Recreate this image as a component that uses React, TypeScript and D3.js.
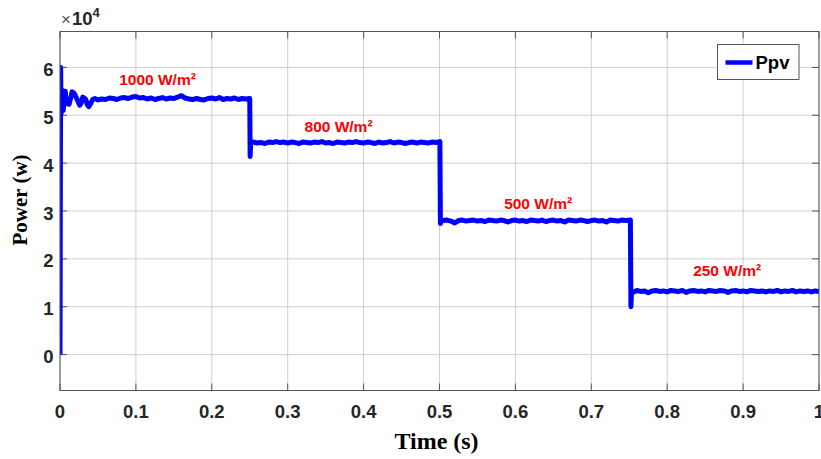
import React from "react";
import * as d3 from "d3";

// PV output power Ppv (W) under stepped irradiance, [time (s), power (W)]
const seg1000: [number, number][] = [
  [0, 0], [0.0008, 60000], [0.0014, 50200], [0.002, 54800], [0.0028, 52600], [0.0036, 55200],
  [0.0044, 51000], [0.005, 54600], [0.006, 53000], [0.007, 55000], [0.008, 52400], [0.010, 53000],
  [0.012, 52300], [0.014, 53600], [0.016, 54900], [0.018, 54700], [0.020, 54200], [0.022, 53500],
  [0.024, 52800], [0.026, 52100], [0.028, 52600], [0.030, 53800], [0.032, 53600], [0.034, 53300],
  [0.036, 52200], [0.038, 51800], [0.040, 52300], [0.043, 53300], [0.046, 53500], [0.050, 53200],
  [0.055, 53400], [0.060, 53300], [0.065, 53600], [0.070, 53500], [0.075, 53300], [0.080, 53600],
  [0.085, 53700], [0.090, 53500], [0.095, 53800], [0.100, 53900], [0.105, 53600], [0.110, 53700],
  [0.115, 53400], [0.120, 53600], [0.125, 53300], [0.130, 53500], [0.135, 53700], [0.140, 53400],
  [0.145, 53600], [0.150, 53500], [0.155, 53800], [0.160, 54100], [0.165, 53600], [0.170, 53400],
  [0.175, 53300], [0.180, 53500], [0.185, 53300], [0.190, 53200], [0.195, 53500], [0.200, 53600],
  [0.205, 53400], [0.210, 53700], [0.215, 53300], [0.220, 53500], [0.225, 53400], [0.230, 53600],
  [0.235, 53300], [0.240, 53500], [0.245, 53400], [0.2500, 53500],
];
const seg800: [number, number][] = [
  [0.2505, 41400], [0.2512, 44200], [0.255, 44400], [0.260, 44200], [0.265, 44300], [0.270, 44100],
  [0.275, 44400], [0.280, 44300], [0.285, 44500], [0.290, 44300], [0.295, 44400], [0.300, 44200],
  [0.305, 44400], [0.310, 44300], [0.315, 44100], [0.320, 44400], [0.325, 44300], [0.330, 44200],
  [0.335, 44400], [0.340, 44300], [0.345, 44500], [0.350, 44200], [0.355, 44300], [0.360, 44100],
  [0.365, 44400], [0.370, 44300], [0.375, 44200], [0.380, 44400], [0.385, 44300], [0.390, 44500],
  [0.395, 44300], [0.400, 44200], [0.405, 44400], [0.410, 44300], [0.415, 44100], [0.420, 44400],
  [0.425, 44200], [0.430, 44300], [0.435, 44500], [0.440, 44200], [0.445, 44400], [0.450, 44300],
  [0.455, 44100], [0.460, 44300], [0.465, 44400], [0.470, 44200], [0.475, 44400], [0.480, 44300],
  [0.485, 44200], [0.490, 44400], [0.495, 44300], [0.5005, 44500],
];
const seg500: [number, number][] = [
  [0.5012, 27400], [0.5020, 28100], [0.505, 28000], [0.510, 28100], [0.515, 27900], [0.520, 27500],
  [0.525, 28000], [0.530, 28100], [0.535, 27900], [0.540, 28000], [0.545, 28100], [0.550, 27900],
  [0.555, 28000], [0.560, 27800], [0.565, 28100], [0.570, 28000], [0.575, 27900], [0.580, 28100],
  [0.585, 28000], [0.590, 27700], [0.595, 28000], [0.600, 28100], [0.605, 27900], [0.610, 28000],
  [0.615, 27800], [0.620, 28100], [0.625, 28000], [0.630, 27900], [0.635, 28100], [0.640, 27800],
  [0.645, 28000], [0.650, 28100], [0.655, 27900], [0.660, 28000], [0.665, 27700], [0.670, 28100],
  [0.675, 28000], [0.680, 27900], [0.685, 28100], [0.690, 28000], [0.695, 27800], [0.700, 28000],
  [0.705, 28100], [0.710, 27900], [0.715, 28000], [0.720, 27700], [0.725, 28100], [0.730, 28000],
  [0.735, 27900], [0.740, 28100], [0.745, 28000], [0.7515, 28100],
];
const seg250: [number, number][] = [
  [0.7522, 10000], [0.7530, 13200], [0.756, 13100], [0.760, 13400], [0.765, 13200], [0.770, 13300],
  [0.775, 12900], [0.780, 13300], [0.785, 13400], [0.790, 13200], [0.795, 13300], [0.800, 13100],
  [0.805, 13400], [0.810, 13300], [0.815, 13200], [0.820, 13400], [0.825, 13000], [0.830, 13300],
  [0.835, 13400], [0.840, 13200], [0.845, 13300], [0.850, 13100], [0.855, 13400], [0.860, 13300],
  [0.865, 13200], [0.870, 13400], [0.875, 13300], [0.880, 13000], [0.885, 13300], [0.890, 13400],
  [0.895, 13200], [0.900, 13300], [0.905, 13100], [0.910, 13400], [0.915, 13300], [0.920, 13200],
  [0.925, 13300], [0.930, 13100], [0.935, 13300], [0.940, 13200], [0.945, 13400], [0.950, 13100],
  [0.955, 13300], [0.960, 13200], [0.965, 13400], [0.970, 13100], [0.975, 13300], [0.980, 13200],
  [0.985, 13300], [0.990, 13100], [0.995, 13300], [1.000, 13200],
];

const xTicks = [0, 0.1, 0.2, 0.3, 0.4, 0.5, 0.6, 0.7, 0.8, 0.9, 1];
const xTickLabels = ["0", "0.1", "0.2", "0.3", "0.4", "0.5", "0.6", "0.7", "0.8", "0.9", "1"];
const yTicks = [0, 10000, 20000, 30000, 40000, 50000, 60000];
const yTickLabels = ["0", "1", "2", "3", "4", "5", "6"];

// irradiance annotations: [label, time (s), power (W)] anchoring each label
const irradianceLabels: [string, number, number][] = [
  ["1000 W/m²", 0.1285, 56300],
  ["800 W/m²", 0.367, 46500],
  ["500 W/m²", 0.63, 30500],
  ["250 W/m²", 0.879, 16400],
];

const W = 821;
const H = 459;
const M = { left: 60, right: 2, top: 31.5, bottom: 68.5 };

export default function App() {
  const x = d3.scaleLinear().domain([0, 1]).range([M.left, W - M.right]);
  const y = d3.scaleLinear().domain([-7500, 67500]).range([H - M.bottom, M.top]);
  const [x0, x1] = x.range();
  const [y0, y1] = y.range();
  const line = d3
    .line<[number, number]>()
    .x((d) => x(d[0]))
    .y((d) => y(d[1]));
  const series = [...seg1000, ...seg800, ...seg500, ...seg250];
  const axisColor = "#555";
  const tickLen = 7;
  const sans = "'Liberation Sans', Arial, sans-serif";
  const serif = "'Liberation Serif', 'Times New Roman', serif";

  return (
    <svg
      width={W}
      height={H}
      style={{ position: "absolute", left: 0, top: 0, background: "#fff" }}
    >
      <defs>
        <clipPath id="plot-clip">
          <rect x={x0} y={y1} width={x1 - x0} height={y0 - y1} />
        </clipPath>
      </defs>
      <rect x={0} y={0} width={W} height={H} fill="#fff" />

      {/* grid */}
      <g stroke="#cfcfcf" strokeWidth={1}>
        {xTicks.map((t) => (
          <line key={`gx${t}`} x1={x(t)} x2={x(t)} y1={y1} y2={y0} />
        ))}
        {yTicks.map((t) => (
          <line key={`gy${t}`} x1={x0} x2={x1} y1={y(t)} y2={y(t)} />
        ))}
      </g>

      {/* ticks */}
      <g stroke={axisColor} strokeWidth={1}>
        {xTicks.map((t) => (
          <g key={`tx${t}`}>
            <line x1={x(t)} x2={x(t)} y1={y0} y2={y0 - tickLen} />
            <line x1={x(t)} x2={x(t)} y1={y1} y2={y1 + tickLen} />
          </g>
        ))}
        {yTicks.map((t) => (
          <g key={`ty${t}`}>
            <line x1={x0} x2={x0 + tickLen} y1={y(t)} y2={y(t)} />
            <line x1={x1} x2={x1 - tickLen} y1={y(t)} y2={y(t)} />
          </g>
        ))}
      </g>

      {/* power trace */}
      <g clipPath="url(#plot-clip)">
        <path
          d={line(series) ?? ""}
          fill="none"
          stroke="#0000ff"
          strokeWidth={5}
          strokeLinejoin="round"
          strokeLinecap="butt"
        />
      </g>

      {/* axes box */}
      <rect x={x0} y={y1} width={x1 - x0} height={y0 - y1} fill="none" stroke={axisColor} strokeWidth={1} />

      {/* irradiance labels */}
      {irradianceLabels.map(([label, t, p]) => (
        <text
          key={label}
          x={x(t)}
          y={y(p)}
          fill="#ff0000"
          fontFamily={sans}
          fontWeight="bold"
          fontSize={15.5}
          textAnchor="middle"
        >
          {label}
        </text>
      ))}

      {/* tick labels */}
      <g fontFamily={sans} fontWeight="bold" fontSize={18.5} fill="#262626">
        {xTicks.map((t, i) => (
          <text key={`lx${t}`} x={x(t)} y={417.5} textAnchor="middle">
            {xTickLabels[i]}
          </text>
        ))}
        {yTicks.map((t, i) => (
          <text key={`ly${t}`} x={53.5} y={y(t) + 8.5} textAnchor="end">
            {yTickLabels[i]}
          </text>
        ))}
      </g>

      {/* exponent */}
      <text x={61} y={25} fontFamily={sans} fill="#262626">
        <tspan fontSize={17} fill="#555">×</tspan>
        <tspan fontSize={18.5} fontWeight="bold" dx={1}>10</tspan>
        <tspan fontSize={13} fontWeight="bold" dy={-8}>4</tspan>
      </text>

      {/* axis titles */}
      <text
        x={436.5}
        y={448.5}
        textAnchor="middle"
        fontFamily={serif}
        fontWeight="bold"
        fontSize={24}
        fill="#000"
      >
        Time (s)
      </text>
      <text
        transform={`translate(27,200) rotate(-90)`}
        textAnchor="middle"
        fontFamily={serif}
        fontWeight="bold"
        fontSize={21}
        fill="#000"
      >
        Power (w)
      </text>

      {/* legend */}
      <g>
        <rect x={717.5} y={44.5} width={81.5} height={35} fill="#fff" stroke="#555" strokeWidth={1} />
        <line x1={725.5} x2={752.5} y1={62.5} y2={62.5} stroke="#0000ff" strokeWidth={4.5} />
        <text x={755.5} y={69} fontFamily={sans} fontWeight="bold" fontSize={18.5} fill="#000">
          Ppv
        </text>
      </g>
    </svg>
  );
}
